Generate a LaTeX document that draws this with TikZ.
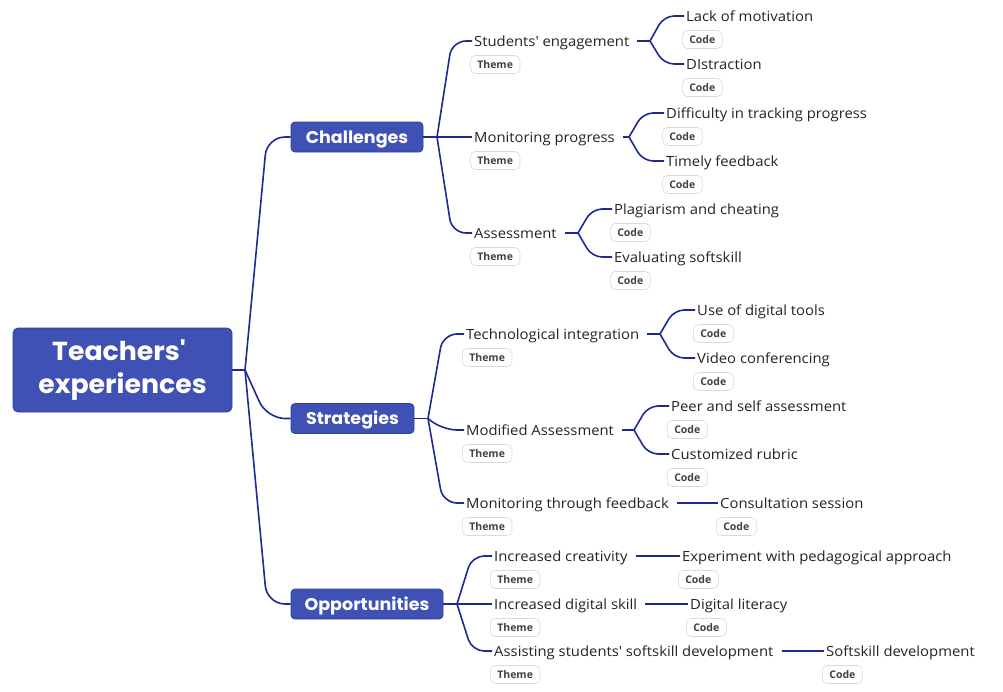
\documentclass[tikz,border=0pt]{standalone}
\usepackage{fontspec}
\setmainfont{Open Sans}[FakeStretch=1.06]
\newfontfamily\hfont{Poppins}[FakeStretch=1.03]
\newfontfamily\tagfont{Open Sans}
\usetikzlibrary{calc}
\definecolor{hdr}{RGB}{63,81,181}
\definecolor{hdrb}{RGB}{48,63,159}
\definecolor{ln}{RGB}{28,42,145}
\definecolor{txt}{RGB}{35,35,35}
\definecolor{tagb}{RGB}{218,218,218}
\definecolor{tagt}{RGB}{65,65,65}
\newcommand\q{\textquotesingle}
\newcommand\lbltag[5]{%
  \node[lbl] (#1) at (#2-2,#3) {#4};
  \node[tag, anchor=north west] (#1t) at ([xshift=-2pt,yshift=-9pt]#1.south west) {#5};}
\begin{document}
\begin{tikzpicture}[x=1pt,y=-1pt,
  hdrbox/.style={fill=hdr, draw=hdrb, line width=0.8pt, rounded corners=4pt, text=white,
    font=\hfont\bfseries\fontsize{17}{17}\selectfont, minimum height=30pt, inner sep=0pt,
    text height=12pt, text depth=0pt},
  lbl/.style={anchor=west, inner xsep=2pt, inner ysep=0pt, text height=10pt, text depth=0pt,
    font=\fontsize{14}{14}\selectfont, text=txt},
  tag/.style={draw=tagb, rounded corners=5pt, fill=white, line width=0.6pt,
    font=\tagfont\fontsize{10.5}{10.5}\selectfont\bfseries, text=tagt, minimum height=18pt,
    inner xsep=7pt, inner ysep=0pt},
  conn/.style={draw=ln, line width=1.6pt},
  leafconn/.style={conn, rounded corners=10pt}]
\useasboundingbox (0,0) rectangle (1003,691);

% root
\node[fill=hdr, draw=hdrb, line width=0.8pt, rounded corners=5pt, text=white,
  font=\hfont\bfseries\fontsize{26}{33}\selectfont, align=center,
  minimum width=219pt, minimum height=84pt, inner sep=0pt] (root) at (122.5,370) {\raisebox{-2pt}{Teachers'\hspace{7pt}}\\\raisebox{-2pt}{experiences}};
\coordinate (jR) at (245,370);

% headers
\node[hdrbox, minimum width=132pt] (ch) at (357,137) {Challenges};
\node[hdrbox, minimum width=123pt] (st) at (352.5,418.5) {Strategies};
\node[hdrbox, minimum width=152pt] (op) at (367,604) {Opportunities};

\draw[conn] (root.east) -- (jR);
\foreach \h in {ch,st,op}
  \draw[conn, rounded corners=18pt] (jR) -- ($(jR |- \h.west)+(22,0)$) -- (\h.west);

% Challenges branch
\coordinate (jC) at (437,137);
\lbltag{se}{474}{41}{Students\q{} engagement}{Theme}
\lbltag{mp}{474}{137}{Monitoring progress}{Theme}
\lbltag{as}{474}{233}{Assessment}{Theme}
\draw[conn] (ch.east) -- (jC);
\foreach \c in {se,mp,as}
  \draw[conn, rounded corners=14pt] (jC) -- ($(jC |- \c.west)+(15,0)$) -- (\c.west);

\lbltag{lm}{686}{16}{Lack of motivation}{Code}
\lbltag{di}{686}{64}{DIstraction}{Code}
\coordinate (jSE) at (650,41);
\draw[conn] ([xshift=6pt]se.east) -- (jSE);
\foreach \c in {lm,di}
  \draw[leafconn] (jSE) -- ($(jSE |- \c.west)+(14,0)$) -- (\c.west);

\lbltag{dt}{666}{113}{Difficulty in tracking progress}{Code}
\lbltag{tf}{666}{161}{Timely feedback}{Code}
\coordinate (jMP) at (629,137);
\draw[conn] ([xshift=6pt]mp.east) -- (jMP);
\foreach \c in {dt,tf}
  \draw[leafconn] (jMP) -- ($(jMP |- \c.west)+(14,0)$) -- (\c.west);

\lbltag{pc}{614}{209}{Plagiarism and cheating}{Code}
\lbltag{es}{614}{257}{Evaluating softskill}{Code}
\coordinate (jAS) at (578,233);
\draw[conn] ([xshift=6pt]as.east) -- (jAS);
\foreach \c in {pc,es}
  \draw[leafconn] (jAS) -- ($(jAS |- \c.west)+(14,0)$) -- (\c.west);

% Strategies branch
\coordinate (jS) at (428,418.5);
\lbltag{ti}{466}{334}{Technological integration}{Theme}
\lbltag{ma}{466}{430}{Modified Assessment}{Theme}
\lbltag{mf}{466}{503}{Monitoring through feedback}{Theme}
\draw[conn] (st.east) -- (jS);
\foreach \c in {ti,ma,mf}
  \draw[conn, rounded corners=14pt] (jS) -- ($(jS |- \c.west)+(15,0)$) -- (\c.west);

\lbltag{ud}{697}{310}{Use of digital tools}{Code}
\lbltag{vc}{697}{358}{Video conferencing}{Code}
\coordinate (jTI) at (660,334);
\draw[conn] ([xshift=6pt]ti.east) -- (jTI);
\foreach \c in {ud,vc}
  \draw[leafconn] (jTI) -- ($(jTI |- \c.west)+(14,0)$) -- (\c.west);

\lbltag{ps}{671}{406}{Peer and self assessment}{Code}
\lbltag{cr}{671}{454}{Customized rubric}{Code}
\coordinate (jMA) at (634,430);
\draw[conn] ([xshift=6pt]ma.east) -- (jMA);
\foreach \c in {ps,cr}
  \draw[leafconn] (jMA) -- ($(jMA |- \c.west)+(14,0)$) -- (\c.west);

\lbltag{cs}{720}{503}{Consultation session}{Code}
\draw[conn] ([xshift=6pt]mf.east) -- (cs.west);

% Opportunities branch
\coordinate (jO) at (457,604);
\lbltag{ic}{494}{556}{Increased creativity}{Theme}
\lbltag{ids}{494}{604}{Increased digital skill}{Theme}
\lbltag{asd}{494}{651}{Assisting students\q{} softskill development}{Theme}
\draw[conn] (op.east) -- (jO);
\foreach \c in {ic,ids,asd}
  \draw[conn, rounded corners=12pt] (jO) -- ($(jO |- \c.west)+(15,0)$) -- (\c.west);

\lbltag{ep}{682}{556}{Experiment with pedagogical approach}{Code}
\lbltag{dl}{690}{604}{Digital literacy}{Code}
\lbltag{sd}{826}{651}{Softskill development}{Code}
\draw[conn] ([xshift=6pt]ic.east) -- (ep.west);
\draw[conn] ([xshift=6pt]ids.east) -- (dl.west);
\draw[conn] ([xshift=6pt]asd.east) -- (sd.west);
\end{tikzpicture}
\end{document}
